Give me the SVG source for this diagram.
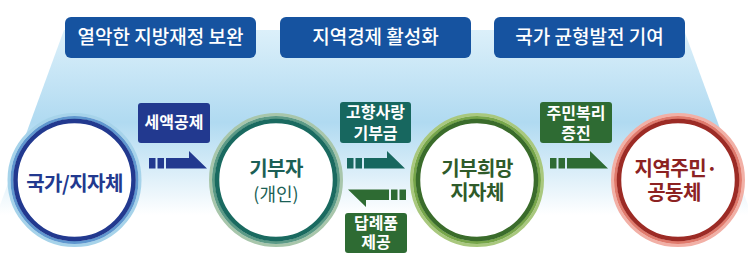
<svg xmlns="http://www.w3.org/2000/svg" width="748" height="266" viewBox="0 0 748 266">
<style>
text{font-family:"Noto Sans CJK KR","Noto Sans",sans-serif;text-anchor:middle}
.ban{fill:#1653a0}
.bt{fill:#fff;font-size:19px;font-weight:500}
.lt{fill:#fff;font-size:16px;font-weight:700}
.ct{font-size:20px;font-weight:700;letter-spacing:-0.5px}
</style>
<defs>
<linearGradient id="bg" x1="0" y1="30" x2="0" y2="215" gradientUnits="userSpaceOnUse">
<stop offset="0" stop-color="#dcf0fa"/>
<stop offset="0.5" stop-color="#b0daf1"/>
<stop offset="1" stop-color="#ffffff"/>
</linearGradient>
<path id="arr" d="M0,0h6.5v10.5h-6.5z M8.5,0h6.5v10.5h-6.5z M17,0H40V-7L58,10.5H17z"/>
</defs>
<polygon points="64,30 684,30 760,238 -12,238" fill="url(#bg)"/>

<g id="banner1"><rect class="ban" x="65" y="17" width="191" height="41" rx="6"/><text class="bt" x="160.5" y="44">열악한 지방재정 보완</text></g>
<g id="banner2"><rect class="ban" x="280" y="17" width="191" height="41" rx="6"/><text class="bt" x="375.5" y="44">지역경제 활성화</text></g>
<g id="banner3"><rect class="ban" x="494" y="17" width="191" height="41" rx="6"/><text class="bt" x="589.5" y="44">국가 균형발전 기여</text></g>

<g id="connectors">
<use href="#arr" transform="translate(149,158)" fill="#22398f"/>
<use href="#arr" transform="translate(347,158)" fill="#17675f"/>
<use href="#arr" transform="translate(406,200) rotate(180)" fill="#2e6b33"/>
<use href="#arr" transform="translate(550,158)" fill="#2e6b33"/>
</g>

<g id="label1"><rect x="138" y="103" width="72" height="40" rx="3" fill="#22398f"/><text class="lt" x="174" y="128">세액공제</text></g>
<g id="label2"><rect x="340" y="102" width="71" height="41" rx="3" fill="#17675f"/><text class="lt" x="375.5" y="118">고향사랑</text><text class="lt" x="375.5" y="139">기부금</text></g>
<g id="label3"><rect x="345" y="213" width="62" height="40" rx="3" fill="#2e6b33"/><text class="lt" x="376" y="229">답례품</text><text class="lt" x="376" y="248">제공</text></g>
<g id="label4"><rect x="540" y="102" width="72" height="41" rx="3" fill="#2e6b33"/><text class="lt" x="576" y="119">주민복리</text><text class="lt" x="576" y="139">증진</text></g>

<g id="node1">
<circle cx="74.5" cy="180" r="65.5" fill="#fff" stroke="#a6d3ea" stroke-width="3"/>
<circle cx="74.5" cy="180" r="62.5" fill="none" stroke="#5f97cf" stroke-width="3"/>
<circle cx="74.5" cy="180" r="59" fill="none" stroke="#22398f" stroke-width="4.5"/>
<text class="ct" x="74.5" y="191" fill="#22398f" font-size="22" letter-spacing="-1.5">국가/지자체</text>
</g>
<g id="node2">
<circle cx="276" cy="180" r="65.5" fill="#fff" stroke="#a8c6ab" stroke-width="3"/>
<circle cx="276" cy="180" r="62.5" fill="none" stroke="#5c9a86" stroke-width="3"/>
<circle cx="276" cy="180" r="59" fill="none" stroke="#1a6a60" stroke-width="4.5"/>
<text class="ct" x="276" y="176" fill="#1b5f56">기부자</text>
<text x="276" y="201" fill="#1b5f56" font-size="18">(개인)</text>
</g>
<g id="node3">
<circle cx="477" cy="180" r="65.5" fill="#fff" stroke="#a9c87e" stroke-width="3"/>
<circle cx="477" cy="180" r="62.5" fill="none" stroke="#77a64a" stroke-width="3"/>
<circle cx="477" cy="180" r="59" fill="none" stroke="#3a6c2b" stroke-width="4.5"/>
<text class="ct" x="477" y="176" fill="#2f5b2a">기부희망</text>
<text class="ct" x="477" y="200" fill="#2f5b2a">지자체</text>
</g>
<g id="node4">
<circle cx="678" cy="180" r="65.5" fill="#fff" stroke="#f2b0a6" stroke-width="3"/>
<circle cx="678" cy="180" r="62.5" fill="none" stroke="#e07a6c" stroke-width="3"/>
<circle cx="678" cy="180" r="59" fill="none" stroke="#9c2b25" stroke-width="4.5"/>
<text class="ct" x="676" y="176" fill="#8c2222">지역주민·</text>
<text class="ct" x="674" y="200" fill="#8c2222">공동체</text>
</g>
</svg>
